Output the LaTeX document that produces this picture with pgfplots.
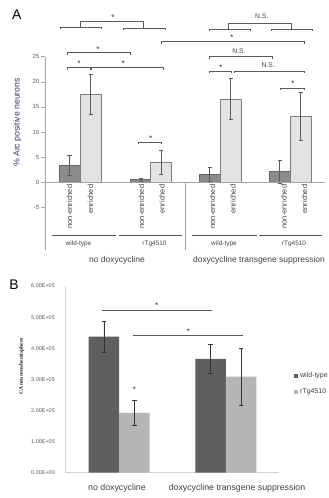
\documentclass[border=0pt]{standalone}
\usepackage{fontspec}
\setmainfont{Liberation Sans}
\newfontfamily\serifb{Liberation Serif}
\usepackage{pgfplots}
\pgfplotsset{compat=1.18}

\definecolor{darkA}{HTML}{8C8C8C}
\definecolor{darkAedge}{HTML}{666666}
\definecolor{lightA}{HTML}{E3E3E3}
\definecolor{lightAedge}{HTML}{7F7F7F}
\definecolor{darkB}{HTML}{5F5F5F}
\definecolor{lightB}{HTML}{B5B5B5}
\definecolor{txt}{HTML}{404040}
\definecolor{tickc}{HTML}{595959}
\definecolor{ann}{HTML}{5A5A5A}
\definecolor{ylab}{RGB}{55,55,100}

\newcommand{\fs}[1]{\fontsize{#1}{#1}\selectfont}
\tikzset{sig/.style={draw=ann, line width=0.6bp}}
\newcommand{\sigline}[3]{\draw[sig] (#1,#3+1.8) -- (#1,#3) -- (#2,#3) -- (#2,#3+1.8);}
\newcommand{\sstar}[2]{\node[font=\fs{8.5}, text=black!75, anchor=base, inner sep=0pt] at (#1,#2+4.4) {*};}
\newcommand{\nsl}[2]{\node[font=\fs{6.8}, text=black!75, anchor=center, inner sep=0pt] at (#1,#2) {N.S.};}

\begin{document}
\begin{tikzpicture}
\useasboundingbox (0,0) rectangle (329bp,-498bp);

% ---------------- Panel A ----------------
\begin{axis}[
  scale only axis, width=280bp, height=193.3bp,
  at={(45bp,-250bp)}, anchor=south west,
  xmin=-0.5, xmax=3.5, ymin=-13.5, ymax=25,
  axis y line=left, axis x line=none,
  axis line style={-, draw=gray!70, line width=0.6bp},
  ytick={-5,0,5,10,15,20,25},
  tick align=outside, major tick length=3.5bp,
  ytick style={draw=gray!70, line width=0.6bp},
  yticklabel style={font=\fs{6}, text=tickc, inner sep=0pt, xshift=-2bp},
  /pgf/number format/assume math mode=true,
  clip=false,
  error bars/y dir=both, error bars/y explicit,
  error bars/error bar style={draw=ann, line width=0.6bp},
  error bars/error mark options={rotate=90, draw=ann, mark size=2bp, line width=0.6bp},
]
\addplot[ybar, bar width=0.3, bar shift=0, fill=darkA, draw=darkAedge, line width=0.6bp]
  coordinates {(-0.15,3.35) +- (0,2.05) (0.87,0.5) +- (0,0.3) (1.85,1.6) +- (0,1.45) (2.85,2.1) +- (0,2.3)};
\addplot[ybar, bar width=0.3, bar shift=0, fill=lightA, draw=lightAedge, line width=0.6bp]
  coordinates {(0.15,17.5) +- (0,4.0) (1.16,4.0) +- (0,2.4) (2.15,16.6) +- (0,4.1) (3.15,13.2) +- (0,4.8)};
\draw[gray!70, line width=0.6bp] (axis cs:-0.5,0) -- (axis cs:3.5,0);
\draw[gray!70, line width=0.6bp] (axis cs:1.5,0) -- (axis cs:1.5,-13.5);
\end{axis}

% ---------------- Panel B ----------------
\begin{axis}[
  scale only axis, width=213.6bp, height=186.7bp,
  at={(65.7bp,-472.7bp)}, anchor=south west,
  xmin=-0.5, xmax=1.5, ymin=0, ymax=600000,
  axis x line=bottom, axis y line=left,
  axis line style={-, draw=gray!35, line width=0.8bp},
  xtick=\empty,
  ytick={0,100000,200000,300000,400000,500000,600000},
  yticklabels={0.00E+00,1.00E+05,2.00E+05,3.00E+05,4.00E+05,5.00E+05,6.00E+05},
  scaled y ticks=false,
  major tick length=0pt,
  yticklabel style={font=\fs{5.5}, text=tickc, inner sep=0pt, xshift=-10.7bp},
  clip=false,
  error bars/y dir=both, error bars/y explicit,
  error bars/error bar style={draw=black!80, line width=0.6bp},
  error bars/error mark options={rotate=90, draw=black!80, mark size=2.2bp, line width=0.6bp},
]
\addplot[ybar, bar width=0.286, bar shift=0, fill=darkB, draw=none]
  coordinates {(-0.143,437000) +- (0,50000) (0.857,366000) +- (0,48000)};
\addplot[ybar, bar width=0.286, bar shift=0, fill=lightB, draw=none]
  coordinates {(0.143,192000) +- (0,40000) (1.143,309000) +- (0,91000)};
\end{axis}

% ---------------- Annotations ----------------
\begin{scope}[x=1bp, y=-1bp]
  \node[font=\fs{14}, anchor=center] at (16.7,15) {A};
  \node[font=\fs{14}, anchor=center] at (14,285) {B};

  \node[rotate=90, font=\fs{8.7}, text=ylab, anchor=center] at (17.5,122.5) {\% Arc positive neurons};

  \foreach \x in {69.5,141.5,212.5,284}
    \node[rotate=90, anchor=east, font=\fs{7.5}, text=txt, inner sep=0pt] at (\x,184.5) {non-enriched};
  \foreach \x in {90.5,162,233,304.5}
    \node[rotate=90, anchor=east, font=\fs{7.5}, text=txt, inner sep=0pt] at (\x,184.5) {enriched};

  \draw[sig] (52,235.7) -- (116,235.7);
  \draw[sig] (119,235.7) -- (182,235.7);
  \draw[sig] (192,235.7) -- (257,235.7);
  \draw[sig] (259,235.7) -- (322,235.7);
  \foreach \x/\t in {78.5/wild-type,154.5/rTg4510,224/wild-type,294/rTg4510}
    \node[font=\fs{6.5}, text=txt, anchor=center] at (\x,244) {\t};
  \node[font=\fs{8.5}, text=txt, anchor=center] at (117,260.5) {no doxycycline};
  \node[font=\fs{8.5}, text=txt, anchor=center] at (259,260.5) {doxycycline transgene suppression};

  \sigline{67.7}{130.7}{52.7} \sstar{98}{47.7}
  \sigline{67.3}{90.7}{67.7}  \sstar{79}{62.3}
  \sigline{91.7}{163}{67.7}   \sstar{123.3}{62}
  \sigline{138.3}{161.7}{142.3} \sstar{150.7}{137}
  \sigline{60}{101.7}{27.3}
  \sigline{123.3}{165}{28.3}
  \draw[sig] (80.7,27.3) -- (80.7,21.7) -- (143.7,21.7) -- (143.7,28.3);
  \sstar{113}{15.7}
  \sigline{161.7}{304}{41.7} \sstar{231.7}{36}
  \sigline{209}{250.7}{29}
  \sigline{271}{312.7}{29}
  \draw[sig] (228.3,29) -- (228.3,23.3) -- (291.7,23.3) -- (291.7,29);
  \nsl{261.7}{16}
  \sigline{209.3}{272.3}{56.7} \nsl{239}{50.7}
  \sigline{209.3}{231.7}{71}   \sstar{220.7}{66}
  \sigline{234}{304}{71}       \nsl{268.3}{65}
  \sigline{280.7}{304}{88.3}   \sstar{292.7}{82.3}

  \node[rotate=90, font=\serifb\bfseries\fs{5.5}, text=black!85, anchor=center] at (21.5,366.5) {CA neurons/hemisphere};
  \node[font=\fs{8.8}, text=txt, anchor=center] at (117,488) {no doxycycline};
  \node[font=\fs{8.8}, text=txt, anchor=center] at (237,488) {doxycycline transgene suppression};
  \draw[sig] (101.7,310) -- (211.7,310); \sstar{156.7}{304.3}
  \draw[sig] (133.3,335) -- (242.7,335); \sstar{188.3}{330}
  \sstar{134.3}{388.3}
  \fill[darkB] (294,373.7) rectangle (298,377.7);
  \fill[lightB] (294,389.7) rectangle (298,393.7);
  \node[font=\fs{7}, text=txt, anchor=west, inner sep=0pt] at (300,375.7) {wild-type};
  \node[font=\fs{7}, text=txt, anchor=west, inner sep=0pt] at (300,391.7) {rTg4510};
\end{scope}
\end{tikzpicture}
\end{document}
